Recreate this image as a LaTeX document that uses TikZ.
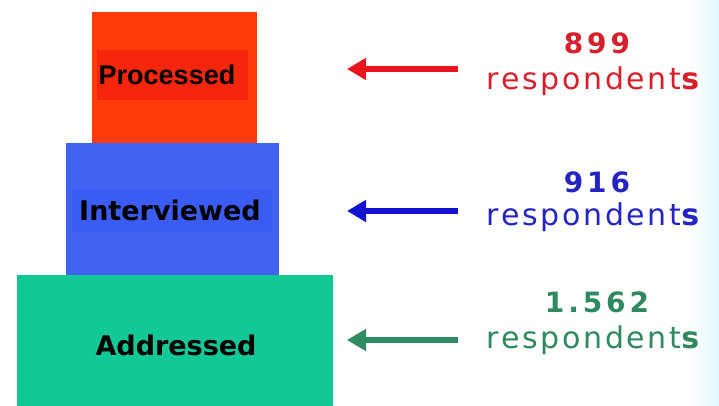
\documentclass[tikz,border=0pt]{standalone}
\usepackage{fontspec}
\setmainfont{DejaVu Sans}
\newfontfamily\labfont[LetterSpace=9]{DejaVu Sans}
\newfontfamily\numfont[LetterSpace=14]{DejaVu Sans}
\newfontfamily\arialb{Liberation Sans}
\usetikzlibrary{arrows.meta}
\definecolor{procR}{HTML}{FF3A0A}
\definecolor{procBand}{HTML}{F6260C}
\definecolor{intB}{HTML}{4262F2}
\definecolor{intBand}{HTML}{3A5CF2}
\definecolor{addG}{HTML}{12C896}
\definecolor{txtR}{HTML}{D8202C}
\definecolor{txtB}{HTML}{2424C4}
\definecolor{txtG}{HTML}{2E8A5E}
\definecolor{arrR}{HTML}{E8141E}
\definecolor{arrB}{HTML}{1212D0}
\definecolor{arrG}{HTML}{2E8C62}
\definecolor{edgeC}{HTML}{E2F8FF}
\tikzset{
  tier/.style={draw=none, inner sep=0pt, anchor=north west},
  tiertext/.style={font=\bfseries\fontsize{27}{27}\selectfont, text=black},
  numtext/.style={font=\numfont\bfseries\fontsize{28}{28}\selectfont},
  resptext/.style={font=\labfont\fontsize{30}{30}\selectfont},
  pointer/.style={line width=6.5pt, -{Triangle[length=19pt,width=21pt]}}
}
\begin{document}
\begin{tikzpicture}[x=1pt,y=-1pt]
\useasboundingbox (0,0) rectangle (719,405);
\fill[white] (0,0) rectangle (719,405);
\shade[left color=white, right color=edgeC] (688,0) rectangle (719,405);
% tiers
\node[tier, fill=procR, minimum width=165pt, minimum height=131pt] (proc) at (92,12) {};
\fill[procBand] (97,50) rectangle (248,100);
\node[tier, fill=intB, minimum width=213pt, minimum height=132pt] (int) at (66,143) {};
\fill[intBand] (72,190) rectangle (272,232);
\node[tier, fill=addG, minimum width=316pt, minimum height=131pt] (addr) at (17,275) {};
% tier labels
\node[font=\arialb\bfseries\fontsize{27}{27}\selectfont, text=black] (ptxt) at (167,75) {Processed};
\node[tiertext] (itxt) at (170,210) {Interviewed};
\node[tiertext] (atxt) at (176,345) {Addressed};
% numbers
\node[numtext, text=txtR] (n1) at (597,43) {899};
\node[resptext, text=txtR] (r1) at (593,81) {respondent{\bfseries s}};
\node[numtext, text=txtB] (n2) at (597,182) {916};
\node[resptext, text=txtB] (r2) at (593,217) {respondent{\bfseries s}};
\node[numtext, text=txtG] (n3) at (597,302) {1.562};
\node[resptext, text=txtG] (r3) at (593,340) {respondent{\bfseries s}};
% arrows
\coordinate (a1s) at (458,69);
\coordinate (a1e) at (347,69);
\coordinate (a2s) at (458,211);
\coordinate (a2e) at (347,211);
\coordinate (a3s) at (458,340);
\coordinate (a3e) at (347,340);
\draw[pointer, arrR] (a1s) -- (a1e);
\draw[pointer, arrB] (a2s) -- (a2e);
\draw[pointer, arrG] (a3s) -- (a3e);
\end{tikzpicture}
\end{document}
